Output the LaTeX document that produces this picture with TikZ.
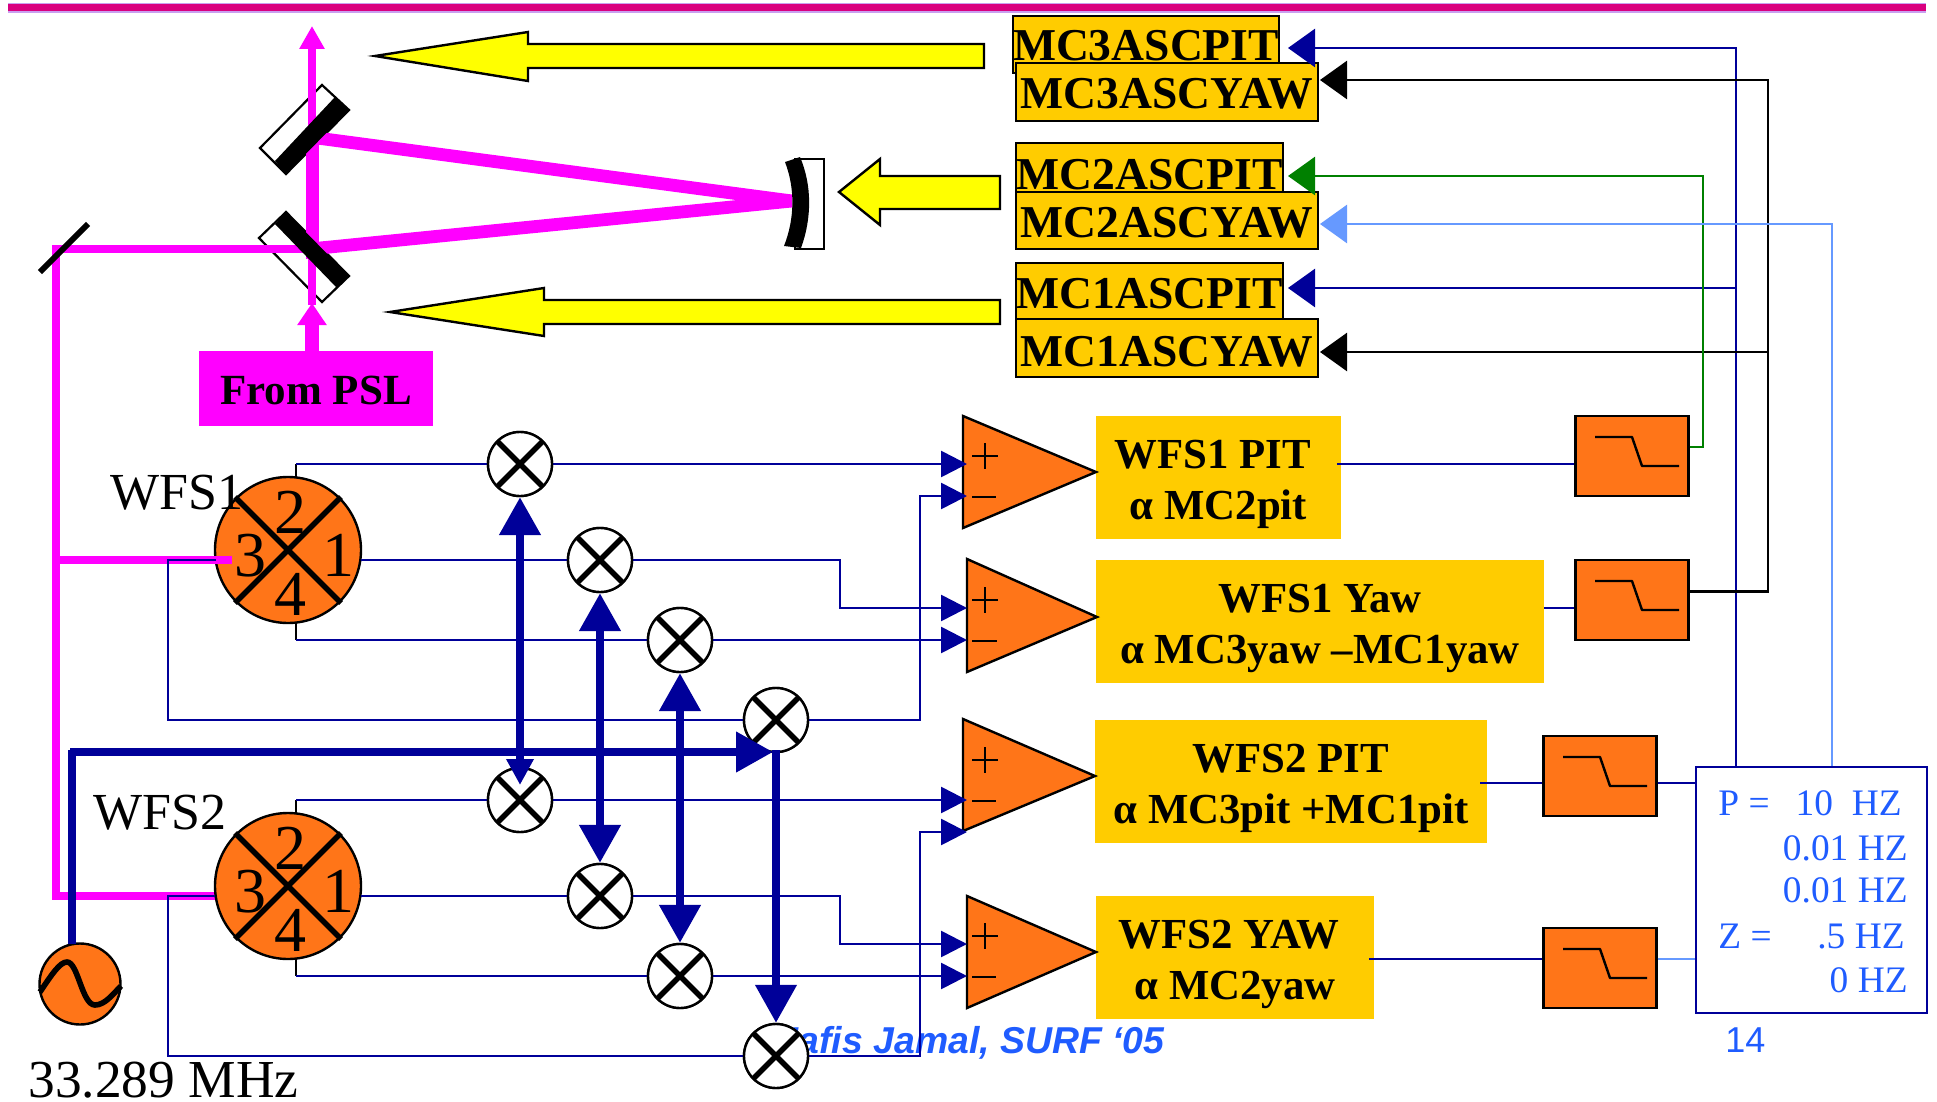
\documentclass[tikz,border=0pt]{standalone}
\usepackage{fontspec}
\setmainfont{Liberation Serif}
\newfontfamily\hel{Liberation Sans}
\usetikzlibrary{arrows.meta,calc}
\definecolor{navy}{HTML}{000099}
\definecolor{mag}{HTML}{FF00FF}
\definecolor{bar}{HTML}{D9007F}
\definecolor{barhalo}{HTML}{C9A0F0}
\definecolor{org}{HTML}{FF7518}
\definecolor{gold}{HTML}{FFCC00}
\definecolor{ltb}{HTML}{6699FF}
\definecolor{grn}{HTML}{008000}
\definecolor{txb}{HTML}{1F5CFF}
\definecolor{yel}{rgb}{1,1,0}
\tikzset{
  x=0.5pt,y=-0.5pt,
  sig/.style={draw=navy,line width=1.3pt,line join=miter},
  sigarr/.style={sig,-{Triangle[length=13pt,width=13pt]}},
  fb/.style={line width=1.3pt,line join=miter,-{Triangle[length=13.5pt,width=19pt]}},
  lo/.style={draw=navy,line width=3.8pt},
  dbl/.style={draw=navy,line width=4pt,{Triangle[length=19pt,width=20pt]}-{Triangle[length=19pt,width=20pt]}},
  mcbox/.style={draw=black,fill=gold,line width=1.2pt,inner sep=0pt,text depth=0pt,font=\fontsize{22.8}{24}\selectfont\bfseries},
  resbox/.style={fill=gold,inner sep=0pt},
  restext/.style={inner sep=0pt,align=center,font=\fontsize{21.4}{25.5}\selectfont\bfseries},
  amp/.style={draw=black,fill=org,line width=1.2pt,line join=miter},
  filt/.style={draw=black,fill=org,line width=1.2pt,minimum width=56.5pt,minimum height=40pt,inner sep=0pt},
  mix/.style={circle,draw=black,fill=white,line width=1.2pt,minimum size=32pt,inner sep=0pt},
  qpd/.style={circle,draw=black,fill=org,line width=1.2pt,minimum size=73pt,inner sep=0pt},
  yarrow/.style={draw=black,fill=yel,line width=1.2pt,line join=miter},
  digit/.style={anchor=base,inner sep=0pt,font=\fontsize{32}{32}\selectfont},
  lbl/.style={anchor=base west,inner sep=0pt,font=\fontsize{26.7}{27}\selectfont},
  wlbl/.style={anchor=base west,inner sep=0pt,font=\fontsize{26}{27}\selectfont},
  zt/.style={inner sep=0pt,font=\fontsize{18.7}{19}\selectfont,text=txb},
}
\newcommand{\mixcross}[1]{\draw[black,line width=2.7pt] ($(#1)+(-23,-23)$)--($(#1)+(23,23)$) ($(#1)+(-23,23)$)--($(#1)+(23,-23)$);}
\newcommand{\qcross}[1]{
  \draw[black,line width=2.8pt] ($(#1)+(-53,-53)$)--($(#1)+(53,53)$) ($(#1)+(-53,53)$)--($(#1)+(53,-53)$);
  \node[digit] at ($(#1)+(2,-17)$) {2};
  \node[digit] at ($(#1)+(-38,26)$) {3};
  \node[digit] at ($(#1)+(50,26)$) {1};
  \node[digit] at ($(#1)+(2,65)$) {4};}
\newcommand{\lpshape}[1]{\draw[black,line width=1.2pt,line join=round] ($(#1)+(-37,-19)$)--($(#1)+(0,-19)$)--($(#1)+(10,10)$)--($(#1)+(47,10)$);}
\newcommand{\ampsign}[3]{\draw[black,line width=1pt] (985,#1-13)--(985,#1+13) (972,#1)--(998,#1) (972,#2)--(#3,#2);}
\begin{document}
\begin{tikzpicture}
\useasboundingbox (0,0) rectangle (1937,1102);
\fill[white] (0,0) rectangle (1937,1102);
% top bar
\fill[barhalo] (8,3) rectangle (1926,13);
\fill[bar] (8,4.5) rectangle (1926,11.5);
% named points
\coordinate (fold) at (56,249);
\coordinate (topbs) at (312,130);
\coordinate (cm) at (792,201);
% white mirror bodies
\draw[black,fill=white,line width=1.1pt] (322,85)--(349,110)--(286,174)--(260,148)--cycle;
\draw[black,fill=white,line width=1.1pt] (286,212)--(349,276)--(322,302)--(259,238)--cycle;
% PSL box
\node[fill=mag,minimum width=117pt,minimum height=37.5pt,inner sep=0pt,text height=15.5pt,text depth=0pt,font=\fontsize{21.5}{24}\selectfont\bfseries] (psl) at (316,388.5) {From PSL};
% magenta beams
\draw[mag,line width=4pt] (312,249) -- (fold) -- (56,896) -- (216,896);
\draw[mag,line width=4pt] (312,305) -- (312,255);
\draw[mag,line width=6.5pt] (312.5,259) -- (312.5,140);
\draw[mag,line width=4pt,-{Triangle[length=11.5pt,width=12pt]}] (topbs) -- (312,26);
\draw[mag,line width=7pt,-{Triangle[length=11pt,width=14pt]}] (312,351) -- (312,303);
\draw[mag,line width=6.4pt] (314,137.6) -- (cm);
\draw[mag,line width=6.4pt] (314,248.6) -- (cm);
% black mirror faces
\draw[black,line width=3pt] (88,224) -- (40,272);
\fill[black] (335,97)--(349,110)--(286,174)--(275,161)--cycle;
\fill[black] (286,212)--(349,276)--(337,288)--(275,224)--cycle;
% curved mirror
\draw[black,fill=white,line width=1.1pt] (795,159) -- (824,159) -- (824,249) -- (795,249) -- cycle;
\fill[black] (785,162) -- (800,157) .. controls (812,185) and (812,218) .. (801,248) -- (784,246) .. controls (795,218) and (795,188) .. (785,162) -- cycle;
% yellow arrows
\draw[yarrow] (375,56) -- (528,32) -- (528,44) -- (984,44) -- (984,68) -- (528,68) -- (528,81) -- cycle;
\draw[yarrow] (839,192) -- (880,159) -- (880,176) -- (1000,176) -- (1000,209) -- (880,209) -- (880,225) -- cycle;
\draw[yarrow] (390,312) -- (544,288) -- (544,300) -- (1000,300) -- (1000,324) -- (544,324) -- (544,336) -- cycle;
% MC boxes
\node[mcbox,text height=16.5pt,minimum width=133pt,minimum height=28.5pt] (mc3p) at (1146,44.5) {MC3ASCPIT};
\node[mcbox,text height=17pt,minimum width=151pt,minimum height=29pt] (mc3y) at (1167,92) {MC3ASCYAW};
\node[mcbox,text height=21.5pt,minimum width=133.5pt,minimum height=24.5pt] (mc2p) at (1149.5,167.5) {MC2ASCPIT};
\node[mcbox,text height=16.5pt,minimum width=151pt,minimum height=28.5pt] (mc2y) at (1167,220.5) {MC2ASCYAW};
\node[mcbox,text height=17pt,minimum width=133.5pt,minimum height=28pt] (mc1p) at (1149.5,291) {MC1ASCPIT};
\node[mcbox,text height=18pt,minimum width=151pt,minimum height=29pt] (mc1y) at (1167,348) {MC1ASCYAW};
% result boxes
\node[resbox,minimum width=122.5pt,minimum height=61.5pt] (r1) at (1218.5,477.5) {};
\node[resbox,minimum width=224pt,minimum height=61.5pt] (r2) at (1320,621.5) {};
\node[resbox,minimum width=196pt,minimum height=61.5pt] (r3) at (1291,781.5) {};
\node[resbox,minimum width=139pt,minimum height=61.5pt] (r4) at (1235,957.5) {};
\node[restext] (r1t) at ($(r1)+(0,7)$) {WFS1 PIT\hspace*{6pt}\\α MC2pit};
\node[restext] (r2t) at ($(r2)+(0,7)$) {WFS1 Yaw\\α MC3yaw –MC1yaw};
\node[restext] (r3t) at ($(r3)+(0,7)$) {WFS2 PIT\\α MC3pit +MC1pit};
\node[restext] (r4t) at ($(r4)+(0,7)$) {WFS2 YAW\hspace*{6pt}\\α MC2yaw};
% amplifiers
\draw[amp] (963,416) -- (1096,472) -- (963,528) -- cycle;
\draw[amp] (967,559) -- (1097,617) -- (967,672) -- cycle;
\draw[amp] (963,719) -- (1095,776) -- (963,831) -- cycle;
\draw[amp] (967,896) -- (1096,952) -- (967,1008) -- cycle;
\ampsign{456}{497}{996}
\ampsign{600}{641}{997}
\ampsign{760}{801}{996}
\ampsign{936}{977}{996}
% filters
\node[filt] (f1) at (1632,456) {}; \lpshape{f1}
\node[filt] (f2) at (1632,600) {}; \lpshape{f2}
\node[filt] (f3) at (1600,776) {}; \lpshape{f3}
\node[filt] (f4) at (1600,968) {}; \lpshape{f4}
% zpk box
\node[draw=navy,fill=white,line width=1.2pt,minimum width=115.5pt,minimum height=123pt,inner sep=0pt] (zpk) at (1811.5,890) {};
\node[zt,anchor=base west] (p) at (1718,815) {P =};
\node[zt,anchor=base east] (v1) at (1902,815) {10\ \ HZ};
\node[zt,anchor=base east] (v2) at (1908,860) {0.01 HZ};
\node[zt,anchor=base east] (v3) at (1908,902) {0.01 HZ};
\node[zt,anchor=base west] (z) at (1718,948) {Z =};
\node[zt,anchor=base east] (v4) at (1905,948) {.5 HZ};
\node[zt,anchor=base east] (v5) at (1908,992) {0 HZ};
% feedback wires
\coordinate (o1) at (1337,464);
\coordinate (o2) at (r2.east |- 0,608);
\coordinate (o3) at (1480,783);
\coordinate (o4) at (1369,959);
\draw[sig] (o1) -- (o1 -| f1.west);
\draw[sig] (o2) -- (o2 -| f2.west);
\draw[sig] (o3) -- (o3 -| f3.west);
\draw[sig] (o4) -- (o4 -| f4.west);
\draw[sig] (o3 -| f3.east) -- (o3 -| zpk.west);
\draw[draw=ltb,line width=1.3pt] (o4 -| f4.east) -- (o4 -| zpk.west);
\draw[fb,draw=navy] (1736,766) -- (1736,48) -- (1288,48);
\draw[fb,draw=navy] (1736,288) -- (1288,288);
\draw[fb,draw=black] (f2.east |- 0,591.5) -- (1768,591.5) -- (1768,80) -- (1320,80);
\draw[fb,draw=black] (1768,352) -- (1320,352);
\draw[fb,draw=grn] (f1.east |- 0,447) -- (1703,447) -- (1703,176) -- (1288,176);
\draw[fb,draw=ltb] (1832,766) -- (1832,224) -- (1320,224);
% footer
\node[anchor=base east,inner sep=0pt,font=\hel\fontsize{18.7}{19}\selectfont\bfseries\itshape,text=txb] (foot) at (1165,1053) {Hafis Jamal, SURF ‘05};
\node[anchor=base west,inner sep=0pt,font=\hel\fontsize{18}{18}\selectfont,text=txb] (pg) at (1725,1052) {14};
% detectors
\node[qpd] (q1) at (288,550) {};
\node[qpd] (q2) at (288,886) {};
% oscillator
\node[circle,draw=black,fill=org,line width=1.2pt,minimum size=40.5pt,inner sep=0pt] (osc) at (80,984) {};
\draw[black,line width=2.8pt] (40,992) .. controls (52,974) and (60,962) .. (67,962) .. controls (78,962) and (82,1005) .. (95,1005) .. controls (105,1005) and (113,994) .. (121,986);
\node[lbl] (fq) at (28,1097) {33.289 MHz};
% mixers
\foreach \n/\x/\y in {m1/520/464, m2/600/560, m3/680/640, m4/776/720, m5/520/800, m6/600/896, m7/680/976, m8/776/1056}{
  \node[mix] (\n) at (\x,\y) {}; }
% signal wires
\draw[black,line width=1.1pt] (296,464) -- (296,478) (296,622) -- (296,640) (296,800) -- (296,814) (296,958) -- (296,976);
\draw[sig] (296,464) -- (m1);
\draw[sigarr] (m1) -- (967,464);
\draw[sig] (361,560) -- (m2);
\draw[sigarr] (m2) -- (840,560) -- (840,608) -- (967,608);
\draw[sig] (296,640) -- (m3);
\draw[sigarr] (m3) -- (967,640);
\draw[mag,line width=3.8pt] (fold |- 0,560) -- (232,560);
\draw[sig] (216,560) -- (168,560) -- (168,720) -- (m4);
\draw[sigarr] (m4) -- (920,720) -- (920,496) -- (967,496);
\draw[sig] (296,800) -- (m5);
\draw[sigarr] (m5) -- (967,800);
\draw[sig] (361,896) -- (m6);
\draw[sigarr] (m6) -- (840,896) -- (840,944) -- (967,944);
\draw[sig] (296,976) -- (m7);
\draw[sigarr] (m7) -- (967,976);
\draw[sig] (215,896) -- (168,896) -- (168,1056) -- (m8);
\draw[sigarr] (m8) -- (920,1056) -- (920,832) -- (967,832);
% tops of detectors and mixers
\foreach \n in {q1,q2}{ \qcross{\n} }
\node[wlbl] (w1) at (110,509) {WFS1};
\node[wlbl] (w2) at (93,829) {WFS2};
\foreach \n in {m1,m2,m3,m4,m5,m6,m7,m8}{ \node[mix] at (\n) {}; \mixcross{\n} }
% local oscillator
\draw[lo] (72,944) -- (72,750);
\draw[lo,-{Triangle[length=18.5pt,width=19.5pt]}] (70,752) -- (773,752);
\draw[draw=navy,line width=3.8pt,-{Triangle[length=19pt,width=20pt]}] (776,750) -- (m8.north);
\draw[draw=navy,line width=4pt,{Triangle[length=19pt,width=20pt]}-{Triangle[length=13pt,width=13pt]}] (m1.south) -- (520,785);
\draw[dbl] (m2.south) -- (m6.north);
\draw[dbl] (m3.south) -- (m7.north);
\end{tikzpicture}
\end{document}
